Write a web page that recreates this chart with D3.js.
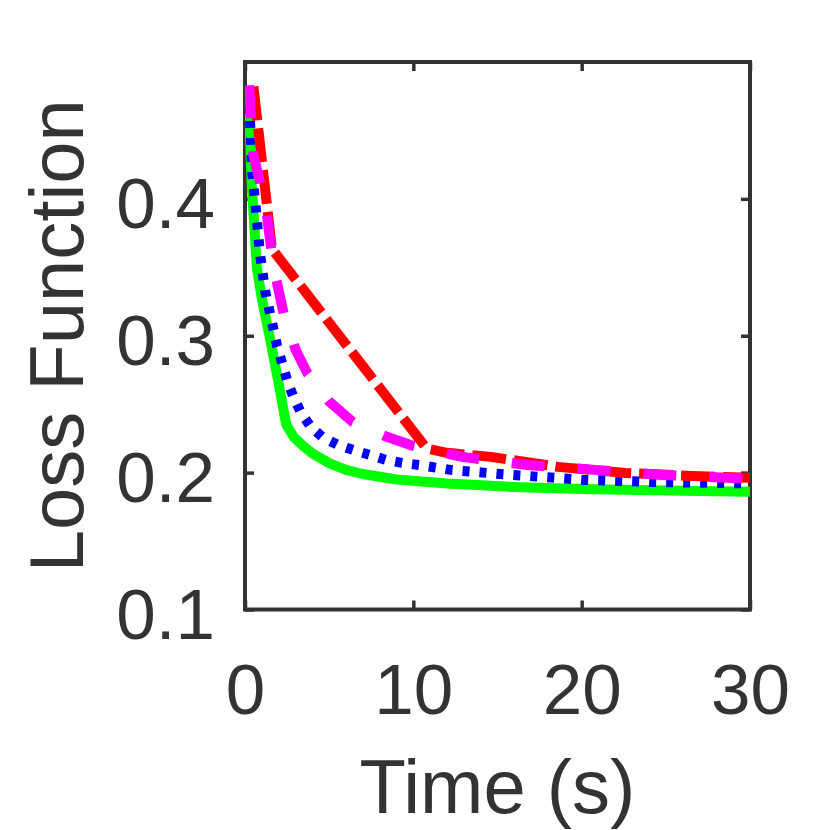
<!DOCTYPE html>
<html>
<head>
<meta charset="utf-8">
<script src="https://cdn.jsdelivr.net/npm/d3@7"></script>
<style>
  body { margin: 0; background: #fff; }
  svg { display: block; }
  text { font-family: "Liberation Sans", Arial, Helvetica, sans-serif; fill: #333; }
</style>
</head>
<body>
<div id="chart"></div>
<script>
// series: time (s) and loss value
var greenTime = [0.25, 0.4, 0.7, 1.0, 1.5, 2.0, 2.45, 2.9, 3.5, 4.0, 5.0, 6.0, 7.0, 9.0, 12, 16, 20, 25, 30]
var greenLoss = [0.462, 0.41, 0.35, 0.327, 0.297, 0.265, 0.235, 0.226, 0.219, 0.214, 0.207, 0.202, 0.199, 0.195, 0.192, 0.1895, 0.188, 0.187, 0.186]

var blueTime = [0.3, 0.42, 0.65, 0.89, 1.19, 1.9, 2.55, 2.91, 3.33, 3.92, 4.63, 5.53, 6.42, 7.43, 8.38, 9.33, 10.34, 12.2, 15.15, 20.1, 24.1, 30]
var blueLoss = [0.457, 0.42, 0.392, 0.36, 0.333, 0.293, 0.2655, 0.2545, 0.2436, 0.2334, 0.2257, 0.2202, 0.2166, 0.2129, 0.2093, 0.2071, 0.2056, 0.202, 0.199, 0.1947, 0.1932, 0.1921]

var redTime = [0.5, 1.6, 10.8, 12.0, 14.6, 18.6, 22.6, 26.6, 30]
var redLoss = [0.482, 0.3635, 0.2175, 0.2145, 0.2115, 0.2042, 0.1998, 0.1976, 0.1962]

var magentaTime = [0.24, 0.36, 0.5, 0.9, 1.3, 1.7, 2.3, 3.0, 3.7, 5.0, 6.4, 8.3, 10, 12.9, 16.8, 20.8, 24.8, 30]
var magentaLoss = [0.483, 0.459, 0.432, 0.412, 0.388, 0.35, 0.316, 0.29, 0.2727, 0.252, 0.237, 0.2268, 0.2195, 0.2115, 0.2056, 0.202, 0.1983, 0.1955]

var xTicks = [0, 10, 20, 30]
var yTicks = [0.1, 0.2, 0.3, 0.4]

var w = 830
var h = 830
var margin = {top: 62, right: 80, bottom: 220.5, left: 245}

var svg = d3.select("#chart")
  .append("svg")
  .attr("width", w)
  .attr("height", h)

var xScale = d3.scaleLinear()
  .domain([0, 30])
  .range([margin.left, w - margin.right])

var yScale = d3.scaleLinear()
  .domain([0.1, 0.5])
  .range([h - margin.bottom, margin.top])

var axisColor = '#333'

// inward ticks on all four sides (box on)
function styleAxis(g) {
  g.select('.domain').remove()
  g.selectAll('.tick line')
    .attr('stroke', axisColor)
    .attr('stroke-width', 3.5)
}

svg.append("g")
  .attr("transform", `translate(0,${yScale(0.1)})`)
  .call(d3.axisBottom(xScale).tickValues(xTicks).tickSizeInner(-9).tickSizeOuter(0).tickPadding(0).tickFormat(d => d))
  .call(styleAxis)
  .selectAll("text")
  .attr("y", 104)
  .attr("dy", null)
  .attr("font-size", "71px")
  .attr("fill", axisColor)

svg.append("g")
  .attr("transform", `translate(0,${yScale(0.5)})`)
  .call(d3.axisTop(xScale).tickValues(xTicks).tickSizeInner(-9).tickSizeOuter(0).tickFormat(''))
  .call(styleAxis)

svg.append("g")
  .attr("transform", `translate(${xScale(0)},0)`)
  .call(d3.axisLeft(yScale).tickValues(yTicks).tickSizeInner(-9).tickSizeOuter(0).tickFormat(d3.format('.1f')))
  .call(styleAxis)
  .selectAll("text")
  .attr("x", -30)
  .attr("dy", null)
  .attr("y", 29)
  .attr("text-anchor", "end")
  .attr("font-size", "71px")
  .attr("fill", axisColor)

svg.append("g")
  .attr("transform", `translate(${xScale(30)},0)`)
  .call(d3.axisRight(yScale).tickValues(yTicks).tickSizeInner(-9).tickSizeOuter(0).tickFormat(''))
  .call(styleAxis)

svg.selectAll(".tick text").attr("font-family", null)

// axes box
svg.append("rect")
  .attr("x", xScale(0))
  .attr("y", yScale(0.5))
  .attr("width", xScale(30) - xScale(0))
  .attr("height", yScale(0.1) - yScale(0.5))
  .attr("fill", "none")
  .attr("stroke", axisColor)
  .attr("stroke-width", 4)

svg.append("clipPath")
  .attr("id", "plot-clip")
  .append("rect")
  .attr("x", xScale(0))
  .attr("y", yScale(0.5))
  .attr("width", xScale(30) - xScale(0))
  .attr("height", yScale(0.1) - yScale(0.5))

var line = d3.line()
  .x(d => xScale(d[0]))
  .y(d => yScale(d[1]))

var series = [
  {name: 'green', time: greenTime, loss: greenLoss, color: '#00ff00', dash: null},
  {name: 'blue', time: blueTime, loss: blueLoss, color: '#0000ff', dash: '7,10'},
  {name: 'red', time: redTime, loss: redLoss, color: '#ff0000', dash: '34,8'},
  {name: 'magenta', time: magentaTime, loss: magentaLoss, color: '#ff00ff', dash: '33,33'}
]

svg.append("g")
  .attr("clip-path", "url(#plot-clip)")
  .selectAll("path")
  .data(series)
  .enter()
  .append("path")
  .attr("class", d => `line ${d.name}`)
  .attr("d", d => line(d.time.map((t, i) => [t, d.loss[i]])))
  .attr("fill", "none")
  .attr("stroke", d => d.color)
  .attr("stroke-width", 10)
  .attr("stroke-linejoin", "round")
  .attr("stroke-dasharray", d => d.dash)

// axis labels
svg.append("text")
  .attr("x", (xScale(0) + xScale(30)) / 2)
  .attr("y", 813)
  .attr("text-anchor", "middle")
  .attr("font-size", "76px")
  .attr("fill", axisColor)
  .text("Time (s)")

svg.append("text")
  .attr("transform", `translate(83,${(yScale(0.1) + yScale(0.5)) / 2}) rotate(-90)`)
  .attr("text-anchor", "middle")
  .attr("font-size", "76px")
  .attr("fill", axisColor)
  .text("Loss Function")
</script>
</body>
</html>
